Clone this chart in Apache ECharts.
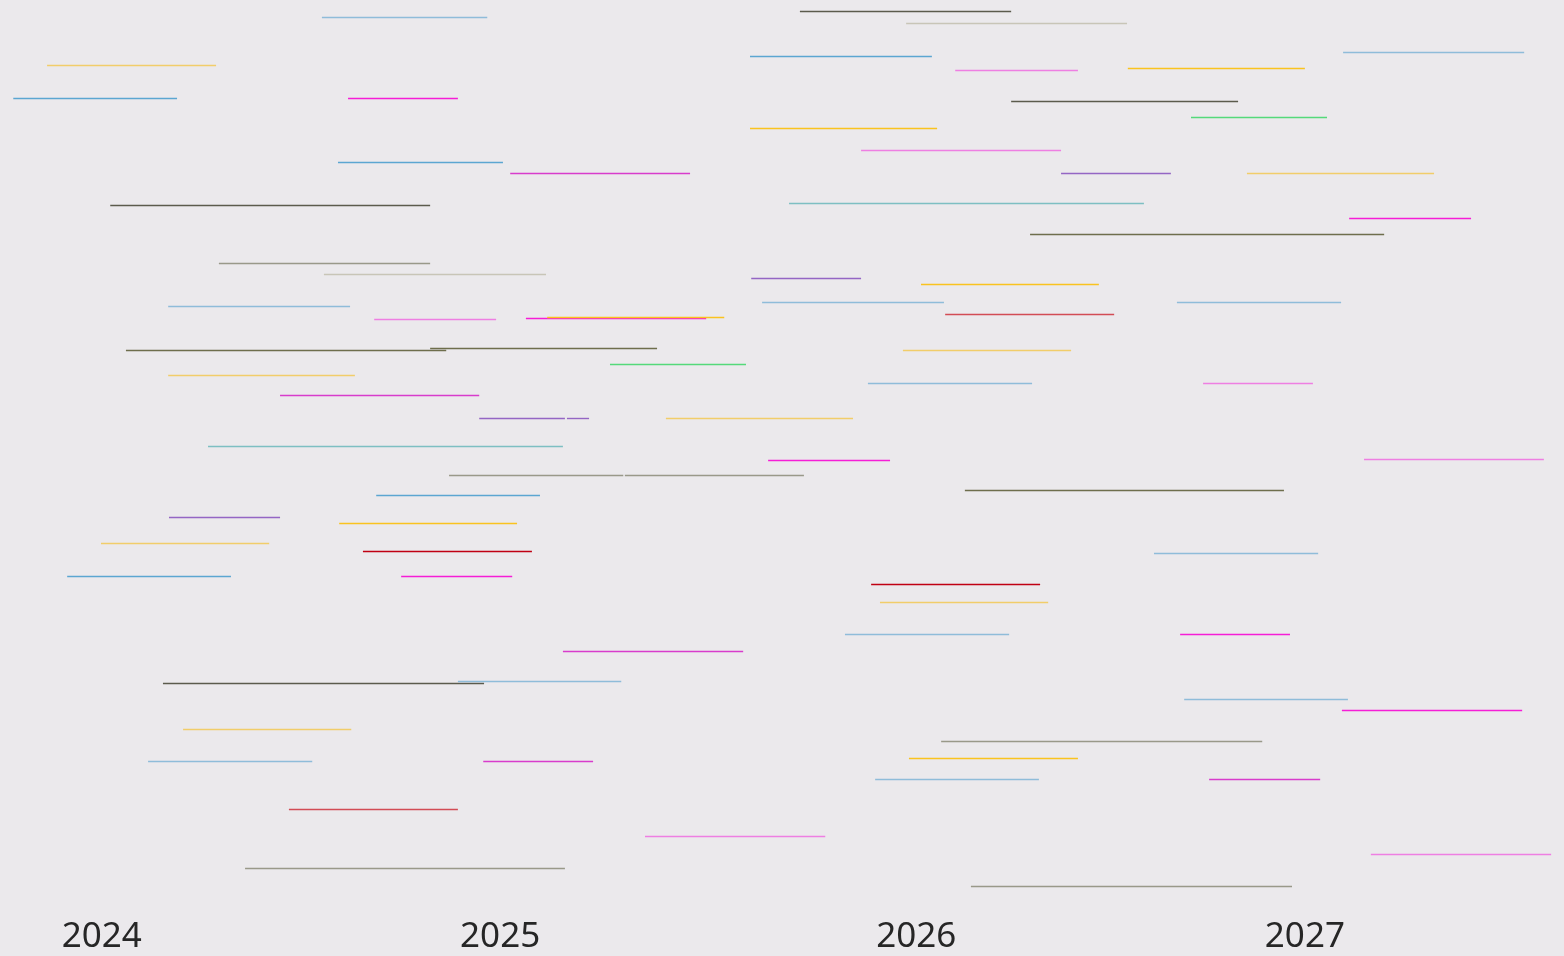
<!DOCTYPE html>
<html>
<head>
<meta charset="utf-8">
<script src="https://cdn.jsdelivr.net/npm/echarts@6/dist/echarts.min.js"></script>
<style>
  html, body { margin: 0; padding: 0; background: #ebe9ec; }
  #chart { width: 1564px; height: 956px; }
</style>
</head>
<body>
<div id="chart"></div>
<script>
// segment start / end in decimal years, lane = vertical row
const segStart = [
  2024.547, 2025.735, 2025.999, 2023.864, 2025.611, 2026.121, 2026.550, 2027.085, 2023.780, 2024.612,
  2026.260, 2026.707, 2025.611, 2025.887, 2024.587, 2025.015, 2026.384, 2026.846, 2024.021, 2025.708,
  2027.100, 2026.307, 2024.291, 2024.552, 2025.614, 2026.036, 2024.165, 2025.641, 2026.672, 2026.096,
  2024.677, 2025.054, 2025.107, 2024.060, 2024.816, 2025.991, 2025.263, 2024.165, 2025.904, 2026.737,
  2024.443, 2024.938, 2025.156, 2025.402, 2024.264, 2025.656, 2027.137, 2024.863, 2025.300, 2026.145,
  2024.682, 2024.167, 2024.590, 2023.998, 2024.649, 2026.615, 2023.914, 2024.744, 2025.912, 2025.934,
  2025.847, 2026.680, 2025.146, 2024.152, 2024.885, 2026.690, 2027.082, 2024.202, 2026.086, 2026.006,
  2024.115, 2024.948, 2025.922, 2026.752, 2024.465, 2025.350, 2027.154, 2024.356, 2026.160
]
const segEnd = [
  2024.958, 2026.260, 2026.548, 2024.284, 2026.063, 2026.426, 2026.990, 2027.535, 2024.187, 2024.885,
  2026.824, 2027.045, 2026.076, 2026.384, 2024.997, 2025.462, 2026.657, 2027.311, 2024.816, 2026.590,
  2027.403, 2027.187, 2024.816, 2025.104, 2025.887, 2026.478, 2024.617, 2026.093, 2027.080, 2026.516,
  2024.980, 2025.502, 2025.547, 2024.856, 2025.380, 2026.409, 2025.601, 2024.629, 2026.312, 2027.010,
  2024.938, 2025.151, 2025.211, 2025.867, 2025.146, 2025.959, 2027.584, 2025.296, 2025.745, 2026.938,
  2025.089, 2024.443, 2025.032, 2024.416, 2025.069, 2027.023, 2024.321, 2025.020, 2026.332, 2026.352,
  2026.255, 2026.953, 2025.594, 2024.950, 2025.291, 2027.097, 2027.530, 2024.620, 2026.884, 2026.426,
  2024.523, 2025.221, 2026.329, 2027.028, 2024.885, 2025.798, 2027.602, 2025.151, 2026.958
]
const segLane = [
  17, 11, 23, 65, 56, 70, 68, 52, 98, 98,
  101, 117, 128, 150, 162, 173, 173, 173, 205, 203,
  218, 234, 263, 274, 278, 284, 306, 302, 302, 314,
  319, 318, 317, 350, 348, 350, 364, 375, 383, 383,
  395, 418, 418, 418, 446, 460, 459, 475, 475, 490,
  495, 517, 523, 543, 551, 553, 576, 576, 584, 602,
  634, 634, 651, 683, 681, 699, 710, 729, 741, 758,
  761, 761, 779, 779, 809, 836, 854, 868, 886
]
const segKind = [
  'blueLt', 'dark', 'beige', 'yellowLt', 'blue', 'pink', 'yellow', 'blueLt', 'blue', 'magenta',
  'dark', 'green', 'yellow', 'pink', 'blue', 'orchid', 'purple', 'yellowLt', 'dark', 'teal',
  'magenta', 'olive', 'gray', 'beige', 'purple', 'yellow', 'blueLt', 'blueLt', 'blueLt', 'red',
  'pink', 'magenta', 'yellow', 'olive', 'olive', 'yellowLt', 'green', 'yellowLt', 'blueLt', 'pink',
  'orchid', 'purple', 'purple', 'yellowLt', 'teal', 'magenta', 'pink', 'gray', 'gray', 'olive',
  'blue', 'purple', 'yellow', 'yellowLt', 'crimson', 'blueLt', 'blue', 'magenta', 'crimson', 'yellowLt',
  'blueLt', 'magenta', 'orchid', 'dark', 'blueLt', 'blueLt', 'magenta', 'yellowLt', 'gray', 'yellow',
  'blueLt', 'orchid', 'blueLt', 'orchid', 'red', 'pink', 'pink', 'gray', 'gray'
]
// year labels and where they sit on the axis
const yearTicks = [2024.0, 2024.99, 2026.024, 2026.99]
const yearLabels = ['2024', '2025', '2026', '2027']

const palette = {
  blue: '#5ba6d1',
  blueLt: '#8fbcd9',
  yellow: '#f9c31f',
  yellowLt: '#f1cd6a',
  magenta: '#f51ed6',
  pink: '#ee7fe2',
  orchid: '#d83ccc',
  dark: '#5b5b4c',
  gray: '#999989',
  beige: '#c8c5b7',
  olive: '#6e6e4c',
  purple: '#9466c4',
  teal: '#7dbfc2',
  green: '#54d97a',
  red: '#d24c55',
  crimson: '#c00012'
}

const chart = echarts.init(document.getElementById('chart'))

const segData = segStart.map((s, i) => [s, segEnd[i], segLane[i]])

chart.setOption({
  backgroundColor: '#ebe9ec',
  animation: false,
  grid: { left: 0, right: 0, top: 0, bottom: 56 },
  xAxis: {
    type: 'value',
    min: 2023.747,
    max: 2027.634,
    axisLine: { show: false },
    axisTick: { show: false },
    splitLine: { show: false },
    axisLabel: {
      customValues: yearTicks,
      margin: 20,
      fontSize: 35,
      fontFamily: 'Noto Sans',
      color: '#262626',
      formatter: function (v) {
        let best = 0
        yearTicks.forEach((t, i) => {
          if (Math.abs(t - v) < Math.abs(yearTicks[best] - v)) best = i
        })
        return yearLabels[best]
      }
    }
  },
  yAxis: {
    type: 'value',
    inverse: true,
    min: -0.5,
    max: 899.5,
    show: false
  },
  series: [
    {
      type: 'custom',
      encode: { x: [0, 1], y: 2 },
      data: segData,
      renderItem: function (params, api) {
        const a = api.coord([api.value(0), api.value(2)])
        const b = api.coord([api.value(1), api.value(2)])
        return {
          type: 'line',
          shape: { x1: a[0], y1: a[1], x2: b[0], y2: b[1] },
          style: { stroke: palette[segKind[params.dataIndex]], lineWidth: 1.4 }
        }
      }
    }
  ]
})
</script>
</body>
</html>
